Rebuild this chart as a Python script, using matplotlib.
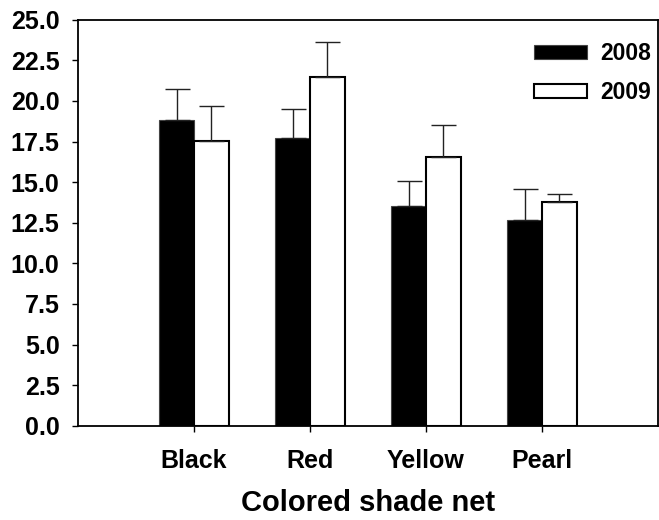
import numpy as np
import matplotlib
matplotlib.use("Agg")
import matplotlib.pyplot as plt

plt.rcParams['font.family'] = ['Liberation Sans', 'DejaVu Sans']
plt.rcParams['font.weight'] = 'bold'

# values
nets = ['Black', 'Red', 'Yellow', 'Pearl']
vals_2008 = [18.8, 17.7, 13.55, 12.65]
err_2008 = [1.95, 1.8, 1.55, 1.95]
vals_2009 = [17.55, 21.5, 16.55, 13.8]
err_2009 = [2.15, 2.1, 1.95, 0.5]
yticks = [0.0, 2.5, 5.0, 7.5, 10.0, 12.5, 15.0, 17.5, 20.0, 22.5, 25.0]

fig = plt.figure(figsize=(6.59, 5.20), dpi=100)
ax = fig.add_axes([0.1184, 0.1813, 0.88, 0.7807])

x = np.arange(1, len(nets) + 1)
w = 0.30
errkw = dict(ecolor='#222222', elinewidth=1.0, capsize=9, capthick=1.0)

ax.bar(x - w / 2, vals_2008, w, color='black', edgecolor='#444444', linewidth=0.8,
       yerr=[np.zeros(4), err_2008], error_kw=errkw, label='2008', zorder=2)
ax.bar(x + w / 2, vals_2009, w, color='white', edgecolor='black', linewidth=1.5,
       yerr=[np.zeros(4), err_2009], error_kw=errkw, label='2009', zorder=2)

ax.set_xlim(0, 5)
ax.set_ylim(0, 25)
ax.set_yticks(yticks)
ax.set_yticklabels(['%.1f' % t for t in yticks])
ax.set_xticks(x)
ax.set_xticklabels(nets)
ax.tick_params(axis='y', direction='out', length=4.3, width=1, pad=9, labelsize=18)
ax.tick_params(axis='x', direction='out', length=4, width=1, pad=13, labelsize=18)
for s in ax.spines.values():
    s.set_linewidth(1.3)

ax.set_xlabel('Colored shade net', fontsize=21, fontweight='bold', labelpad=11)

ax.legend(loc='upper right', frameon=False, fontsize=16.5, handlelength=2.3,
          handleheight=0.55, handletextpad=0.6, labelspacing=0.7,
          bbox_to_anchor=(1.024, 0.995))

fig.savefig('out.png', dpi=100)
